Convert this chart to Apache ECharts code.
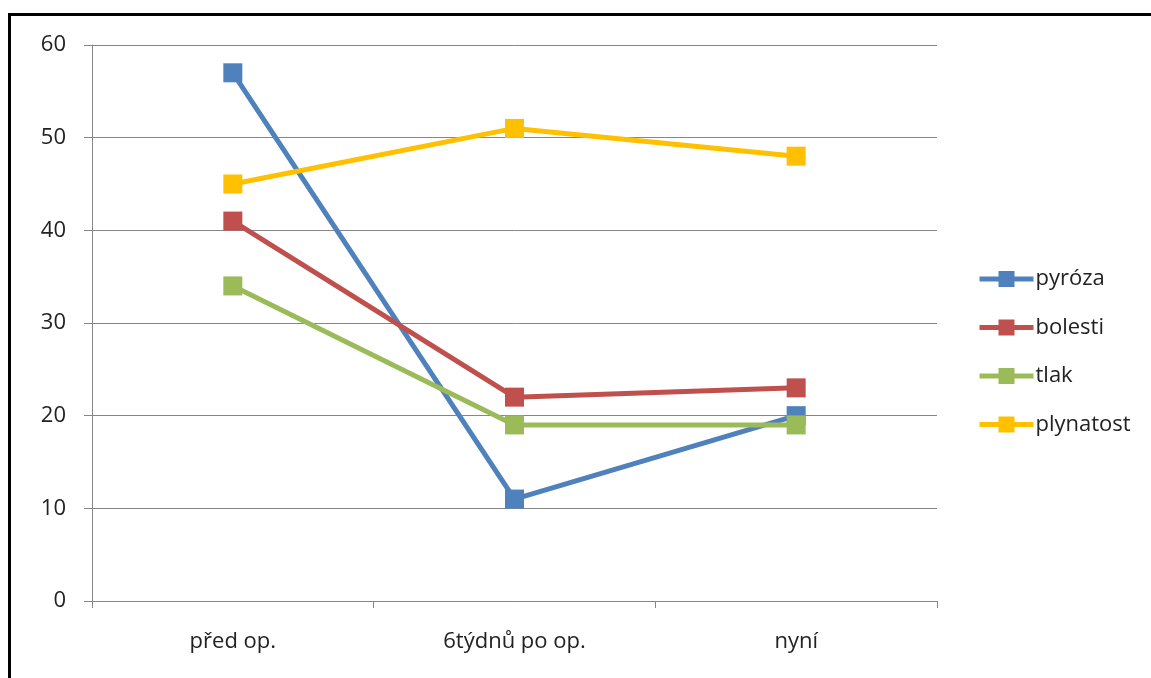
<!DOCTYPE html>
<html>
<head>
<meta charset="utf-8">
<script src="https://cdn.jsdelivr.net/npm/echarts@6/dist/echarts.min.js"></script>
<style>
html,body{margin:0;padding:0;background:#fff;overflow:hidden;}
#chart{position:absolute;left:0;top:0;width:1151px;height:678px;}
#frame{position:absolute;left:8px;top:13px;width:1200px;height:700px;border-left:3px solid #000;border-top:3px solid #000;pointer-events:none;}
</style>
</head>
<body>
<div id="chart"></div>
<div id="frame"></div>
<script>
const categories = ['před op.', '6týdnů po op.', 'nyní'];
const seriesNames = ['pyróza', 'bolesti', 'tlak', 'plynatost'];
const pyroza = [57, 11, 20];
const bolesti = [41, 22, 23];
const tlak = [34, 19, 19];
const plynatost = [45, 51, 48];
const colors = ['#4F81BD', '#C0504D', '#9BBB59', '#FFC000'];
const yTicks = { min: 0, max: 60, interval: 10 };

const dataSets = [pyroza, bolesti, tlak, plynatost];
const font = 'Open Sans';
const chart = echarts.init(document.getElementById('chart'));
chart.setOption({
  animation: false,
  backgroundColor: '#fff',
  color: colors,
  grid: { left: 92, right: 214, top: 45, bottom: 77 },
  legend: {
    orient: 'vertical',
    left: 977,
    top: 268,
    padding: 0,
    itemWidth: 54,
    itemHeight: 20,
    itemGap: 26.5,
    lineStyle: { width: 5 },
    textStyle: { fontFamily: font, fontSize: 22, color: '#222', padding: [0, 0, 0, -3] },
    data: seriesNames
  },
  xAxis: {
    type: 'category',
    data: categories,
    boundaryGap: true,
    axisLine: { lineStyle: { color: '#868686', width: 1 } },
    axisTick: { show: true, length: 7, alignWithLabel: false, lineStyle: { color: '#868686' } },
    axisLabel: { fontFamily: font, fontSize: 22, color: '#222', margin: 30 }
  },
  yAxis: {
    type: 'value',
    min: yTicks.min, max: yTicks.max, interval: yTicks.interval,
    axisLine: { show: true, lineStyle: { color: '#868686', width: 1 } },
    axisTick: { show: true, length: 8, lineStyle: { color: '#868686' } },
    splitLine: { lineStyle: { color: '#868686', width: 1 } },
    axisLabel: { fontFamily: font, fontSize: 22, color: '#222', margin: 26 }
  },
  series: seriesNames.map((n, i) => ({
    name: n,
    type: 'line',
    data: dataSets[i],
    symbol: 'rect',
    symbolSize: 19,
    lineStyle: { width: 5, color: colors[i] },
    itemStyle: { color: colors[i] },
    z: 2 + i
  }))
});
</script>
</body>
</html>
